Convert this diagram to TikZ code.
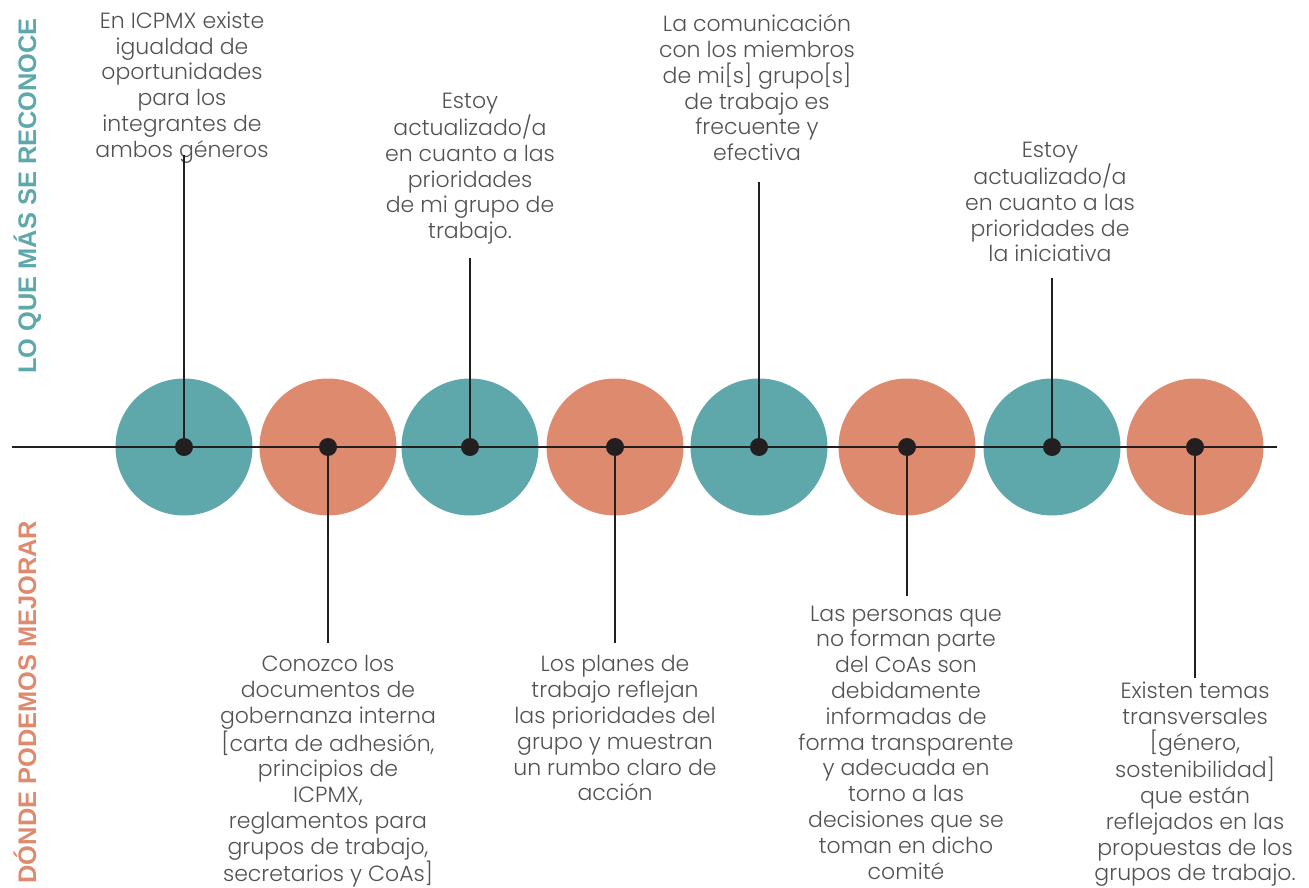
\documentclass[tikz,border=0pt]{standalone}
\usepackage{fontspec}
\setmainfont{Poppins Light}
\newfontfamily\sidefont{Liberation Sans}[BoldFont={* Bold}]
\usetikzlibrary{positioning}
\definecolor{tealc}{HTML}{5EA7AA}
\definecolor{salmonc}{HTML}{DE8A6F}
\definecolor{ink}{HTML}{231F20}
\definecolor{txtc}{HTML}{525252}
\tikzset{
	ball/.style={circle, minimum size=137pt, inner sep=0pt},
	hub/.style={circle, fill=ink, minimum size=18pt, inner sep=0pt},
	stem/.style={draw=ink, line width=2.2pt}
}

\begin{document}
\begin{tikzpicture}[x=1pt, y=-1pt, note/.style={font=\fontsize{22}{25.8}\selectfont, text=txtc, align=center, inner sep=0pt, anchor=north}, side/.style={font=\sidefont\bfseries\fontsize{25.4}{30}\selectfont, rotate=90, anchor=base, inner sep=0pt}]
			\useasboundingbox (0,0) rectangle (1309,888);
			\foreach \x/\c [count=\i] in {184/tealc,328/salmonc,470/tealc,615/salmonc,759/tealc,907/salmonc,1052/tealc,1195/salmonc}
				\node [ball, fill=\c] (c\i) at (\x,447) {};
			\node [side, text=tealc] (top) at (36,196) {LO QUE MÁS SE RECONOCE};
			\node [side, text=salmonc] (bottom) at (36,702) {DÓNDE PODEMOS MEJORAR};
			% lo que mas se reconoce
			\node [note] (t1) at (182,11.5) {En ICPMX existe\\igualdad de\\oportunidades\\para los\\integrantes de\\ambos géneros};
			\node [note] (t3) at (470,92.5) {Estoy\\actualizado/a\\en cuanto a las\\prioridades\\de mi grupo de\\trabajo.};
			\node [note] (t5) at (757,14.5) {La comunicación\\con los miembros\\de mi[s] grupo[s]\\de trabajo es\\frecuente y\\efectiva};
			\node [note] (t7) at (1050,141.5) {Estoy\\actualizado/a\\en cuanto a las\\prioridades de\\la iniciativa};
			% donde podemos mejorar
			\node [note] (t2) at (328,655.5) {Conozco los\\documentos de\\gobernanza interna\\{[}carta de adhesión,\\principios de\\ICPMX,\\reglamentos para\\grupos de trabajo,\\secretarios y CoAs]};
			\node [note] (t4) at (615,655.5) {Los planes de\\trabajo reflejan\\las prioridades del\\grupo y muestran\\un rumbo claro de\\acción};
			\node [note] (t6) at (906,605.5) {Las personas que\\no forman parte\\del CoAs son\\debidamente\\informadas de\\forma transparente\\y adecuada en\\torno a las\\decisiones que se\\toman en dicho\\comité};
			\node [note] (t8) at (1195,682) {Existen temas\\transversales\\{[}género,\\sostenibilidad]\\que están\\reflejados en las\\propuestas de los\\grupos de trabajo.};
			% axis and stems
			\coordinate (left) at (12,447);
			\coordinate (right) at (1277,447);
			\draw [stem] (left) -- (right);
			\foreach \i/\y in {1/155,2/643,3/258,4/643,5/182,6/596,7/278,8/678} {
				\coordinate (e\i) at (c\i |- 0,\y);
				\draw [stem] (c\i.center) -- (e\i);
			}
			\foreach \i in {1,...,8}
				\node [hub] (d\i) at (c\i) {};
		\end{tikzpicture}
\end{document}
